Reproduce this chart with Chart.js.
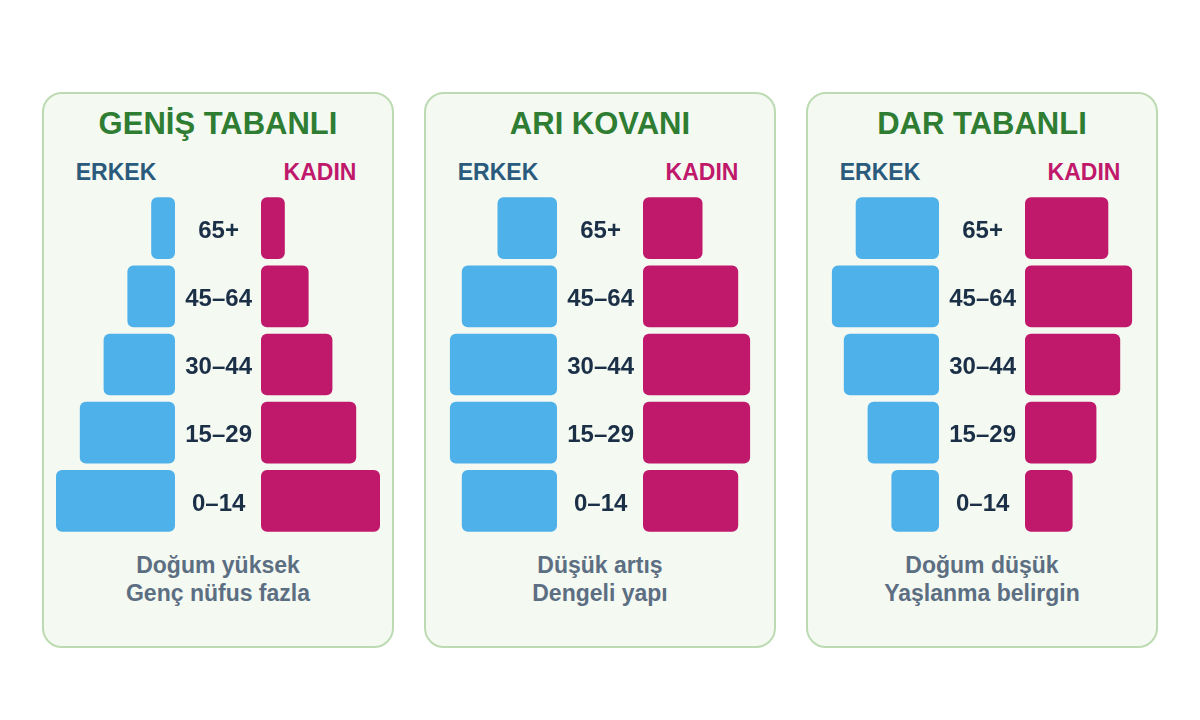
<!DOCTYPE html>
<html lang="tr">
<head>
<meta charset="utf-8">
<title>Nüfus piramidi türleri</title>
<script src="https://cdn.jsdelivr.net/npm/chart.js@4.4.1/dist/chart.umd.min.js"></script>
<style>
  html, body { margin: 0; padding: 0; background: #ffffff; }
  body { width: 1200px; height: 720px; position: relative; overflow: hidden;
         font-family: "Liberation Sans", Arial, Helvetica, sans-serif; font-weight: bold; }
  .panel { position: absolute; top: 92px; width: 352px; height: 556px; box-sizing: border-box;
           border: 2px solid #bddbb3; border-radius: 20px; background: #f4f9f2; }
  .title { position: absolute; left: 0; top: 13px; width: 348px; text-align: center;
           font-size: 31px; line-height: 34px; color: #2e7d32; }
  .sex { position: absolute; top: 65px; width: 140px; text-align: center; font-size: 23px; line-height: 26px; }
  .sex.m { left: 2px; color: #2b5b7c; }
  .sex.f { left: 206px; color: #c0186b; }
  .male { position: absolute; left: 12px; top: 100px; }
  .female { position: absolute; left: 131px; top: 100px; }
  .note { position: absolute; left: 0; top: 457px; width: 348px; text-align: center;
          font-size: 23px; line-height: 28px; color: #5c6e82; }
</style>
</head>
<body>
<script>
// age groups, top row first
const ageGroups = ['65+', '45–64', '30–44', '15–29', '0–14'];

const panelTitles = ['GENİŞ TABANLI', 'ARI KOVANI', 'DAR TABANLI'];
const maleLabel = 'ERKEK';
const femaleLabel = 'KADIN';
const panelNotes = [
    ['Doğum yüksek', 'Genç nüfus fazla'],
    ['Düşük artış', 'Dengeli yapı'],
    ['Doğum düşük', 'Yaşlanma belirgin']
];

// relative share per age group
const genisErkek = [1, 2, 3, 4, 5];
const genisKadin = [1, 2, 3, 4, 5];
const ariErkek = [2.5, 4, 4.5, 4.5, 4];
const ariKadin = [2.5, 4, 4.5, 4.5, 4];
const darErkek = [3.5, 4.5, 4, 3, 2];
const darKadin = [3.5, 4.5, 4, 3, 2];

const maleSeries = [genisErkek, ariErkek, darErkek];
const femaleSeries = [genisKadin, ariKadin, darKadin];

const maleColor = '#4fb1ea';
const femaleColor = '#c0186b';
const labelColor = '#1b3047';

const panelLeft = [42, 424, 806];
const barArea = 119;   // px for the longest possible bar
const axisGap = 86;    // px between the two halves, holds the age labels
const chartHeight = 341;
const valueMax = 5;

Chart.defaults.font.family = '"Liberation Sans", Arial, Helvetica, sans-serif';

function makeCanvas (parent, cls, w, h) {
    const c = document.createElement('canvas');
    c.className = cls;
    c.width = w;
    c.height = h;
    c.style.width = w + 'px';
    c.style.height = h + 'px';
    parent.appendChild(c);
    return c;
}

function barDataset (values, color) {
    return {
        data: values,
        backgroundColor: color,
        borderRadius: 6,
        borderSkipped: false,
        barPercentage: 0.905,
        categoryPercentage: 1
    };
}

function halfChart (canvas, values, color, isMale) {
    const yScale = isMale
        ? { display: false }
        : {
            position: 'left',
            grid: { display: false, drawTicks: false },
            border: { display: false },
            ticks: {
                crossAlign: 'center',
                padding: 9,
                labelOffset: 3,
                color: labelColor,
                font: { size: 24, weight: 'bold' }
            },
            // fixed label column, no extra room above/below the rows
            afterFit: function (scale) {
                scale.width = axisGap;
                scale.paddingTop = 0;
                scale.paddingBottom = 0;
            }
        };

    return new Chart(canvas, {
        type: 'bar',
        data: { labels: ageGroups, datasets: [barDataset(values, color)] },
        options: {
            indexAxis: 'y',
            responsive: false,
            animation: false,
            layout: { padding: 0 },
            plugins: { legend: { display: false }, tooltip: { enabled: false } },
            scales: {
                x: { display: false, min: 0, max: valueMax, reverse: isMale },
                y: yScale
            }
        }
    });
}

panelTitles.forEach(function (title, i) {
    const panel = document.createElement('div');
    panel.className = 'panel';
    panel.style.left = panelLeft[i] + 'px';
    document.body.appendChild(panel);

    const t = document.createElement('div');
    t.className = 'title';
    t.textContent = title;
    panel.appendChild(t);

    const m = document.createElement('div');
    m.className = 'sex m';
    m.textContent = maleLabel;
    panel.appendChild(m);

    const f = document.createElement('div');
    f.className = 'sex f';
    f.textContent = femaleLabel;
    panel.appendChild(f);

    const mc = makeCanvas(panel, 'male', barArea, chartHeight);
    const fc = makeCanvas(panel, 'female', axisGap + barArea, chartHeight);
    halfChart(mc, maleSeries[i], maleColor, true);
    halfChart(fc, femaleSeries[i], femaleColor, false);

    const n = document.createElement('div');
    n.className = 'note';
    n.innerHTML = panelNotes[i].join('<br>');
    panel.appendChild(n);
});
</script>
</body>
</html>
